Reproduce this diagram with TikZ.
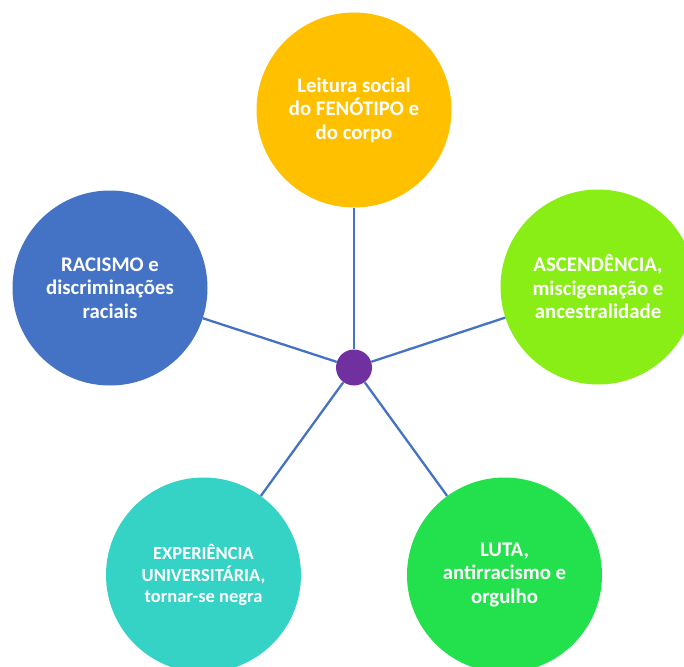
\documentclass[tikz,border=0pt]{standalone}
\usepackage{fontspec}
\setmainfont{Carlito}
\begin{document}
\begin{tikzpicture}[x=1pt,y=-1pt,
  bubble/.style={circle,minimum size=195pt,inner sep=0pt,text=white,
    font=\fontsize{20.8}{23.5}\selectfont\bfseries,align=center},
  hubdot/.style={circle,minimum size=36pt,inner sep=0pt,fill=hubpurple},
  spoke/.style={draw=spokeblue,line width=2.3pt}]
\definecolor{topgold}{HTML}{FFC000}
\definecolor{leftblue}{HTML}{4472C4}
\definecolor{rightlime}{HTML}{89EE15}
\definecolor{teal}{HTML}{35D2C6}
\definecolor{brightgreen}{HTML}{22E14C}
\definecolor{hubpurple}{HTML}{7030A0}
\definecolor{spokeblue}{HTML}{4472C4}
\useasboundingbox (0,0) rectangle (684,666);
\clip (0,0) rectangle (684,666);
\node[hubdot] (hub) at (354,367.5) {};
\node[bubble,fill=topgold] (fen) at (354,110) {Leitura social\\do FENÓTIPO e\\do corpo};
\node[bubble,fill=leftblue] (rac) at (110,288) {RACISMO e\\discriminações\\raciais};
\node[bubble,fill=rightlime] (asc) at (598,287) {ASCENDÊNCIA,\\miscigenação e\\ancestralidade};
\node[bubble,fill=teal,font=\fontsize{18.5}{21.5}\selectfont\bfseries] (uni) at (203.5,575) {EXPERIÊNCIA\\UNIVERSITÁRIA,\\tornar-se negra};
\node[bubble,fill=brightgreen] (luta) at (504.5,575) {LUTA,\\antirracismo e\\orgulho};
\foreach \n in {fen,rac,asc,uni,luta}
  \draw[spoke] (hub) -- (\n);
\end{tikzpicture}
\end{document}
